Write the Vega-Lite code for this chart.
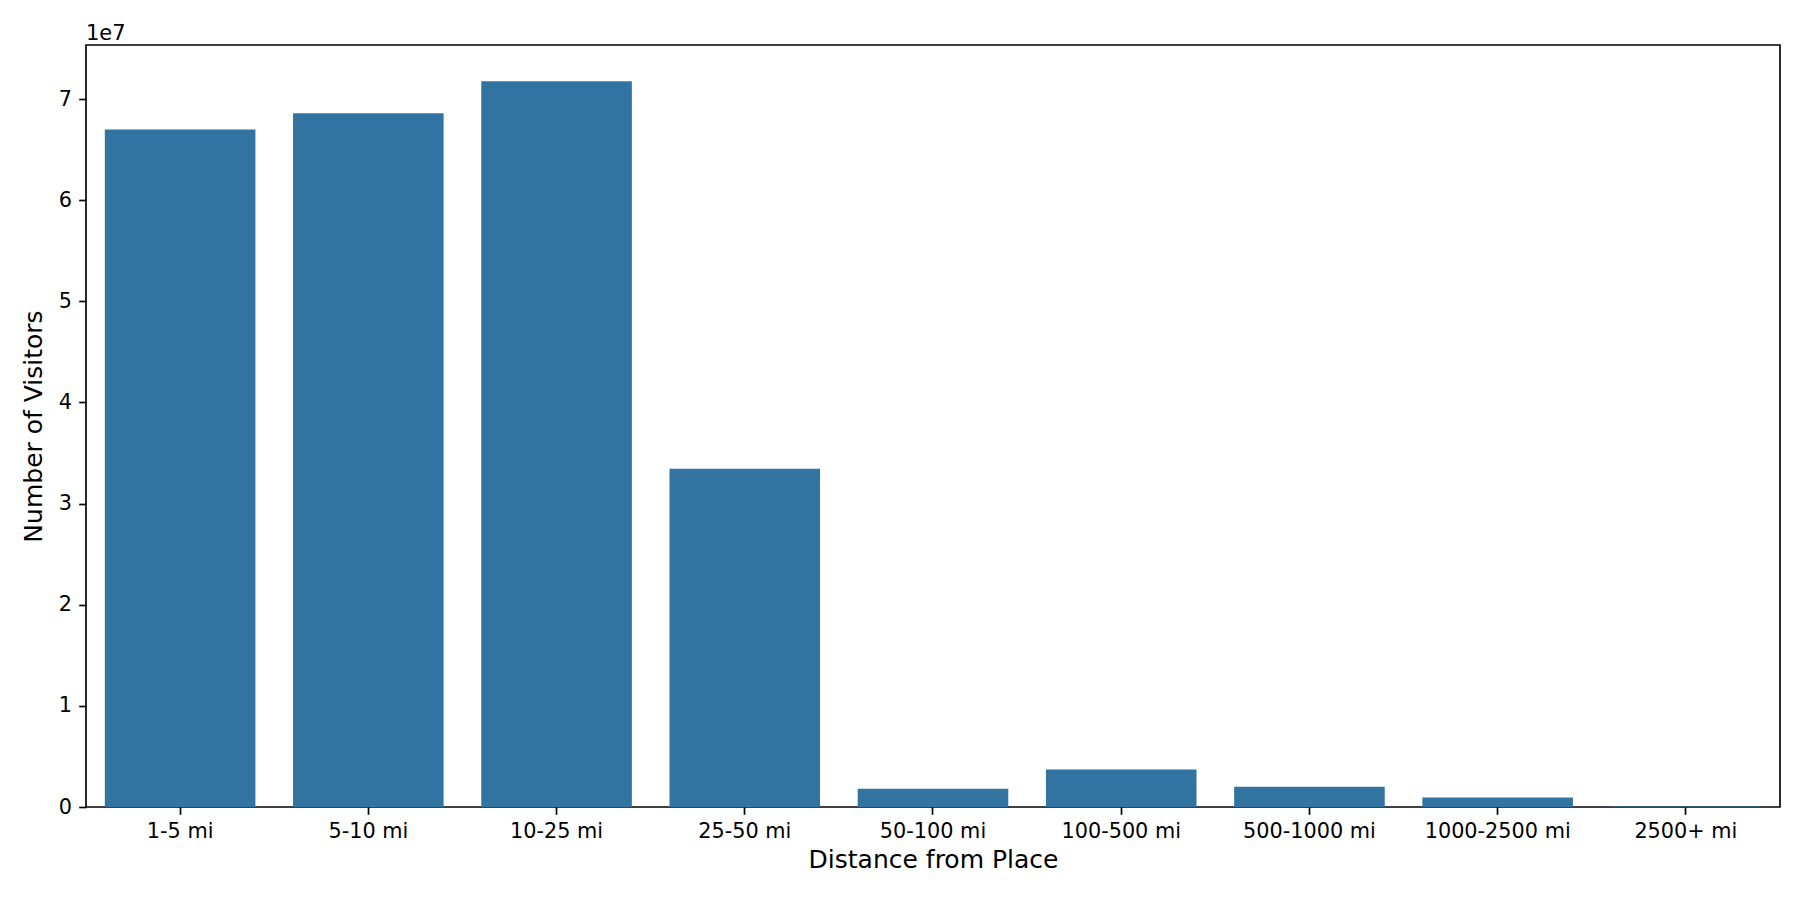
{
  "$schema": "https://vega.github.io/schema/vega-lite/v6.json",
  "width": 1694,
  "height": 762,
  "autosize": {"type": "none"},
  "padding": {"left": 86, "top": 45, "right": 20, "bottom": 93},
  "background": "white",
  "title": {"text": "1e7", "anchor": "start", "font": "DejaVu Sans", "fontSize": 21, "fontWeight": "normal", "color": "black", "offset": 7, "baseline": "alphabetic", "frame": "group", "dy": 23},
  "config": {
    "view": {"stroke": "black", "strokeWidth": 1.67},
    "font": "DejaVu Sans",
    "axis": {
      "domain": false,
      "grid": false,
      "tickColor": "black",
      "tickWidth": 1.67,
      "tickSize": 7.3,
      "labelPadding": 7.3,
      "labelFont": "DejaVu Sans",
      "labelFontSize": 20.8,
      "labelColor": "black",
      "titleFont": "DejaVu Sans",
      "titleFontSize": 25,
      "titleFontWeight": "normal",
      "titleColor": "black"
    }
  },
  "data": {
    "values": [
      {"distance": "1-5 mi", "visitors": 67000000},
      {"distance": "5-10 mi", "visitors": 68600000},
      {"distance": "10-25 mi", "visitors": 71760000},
      {"distance": "25-50 mi", "visitors": 33450000},
      {"distance": "50-100 mi", "visitors": 1800000},
      {"distance": "100-500 mi", "visitors": 3700000},
      {"distance": "500-1000 mi", "visitors": 2000000},
      {"distance": "1000-2500 mi", "visitors": 950000},
      {"distance": "2500+ mi", "visitors": 60000}
    ]
  },
  "mark": {"type": "bar", "color": "#3274a1"},
  "encoding": {
    "x": {
      "field": "distance",
      "type": "nominal",
      "sort": null,
      "scale": {"paddingInner": 0.2, "paddingOuter": 0.1},
      "axis": {"title": "Distance from Place", "labelAngle": 0, "titlePadding": 6}
    },
    "y": {
      "field": "visitors",
      "type": "quantitative",
      "scale": {"domain": [0, 75350000], "nice": false, "zero": true},
      "axis": {
        "title": "Number of Visitors",
        "values": [0, 10000000, 20000000, 30000000, 40000000, 50000000, 60000000, 70000000],
        "labelExpr": "format(datum.value / 10000000, 'd')",
        "titlePadding": 12
      }
    }
  }
}
